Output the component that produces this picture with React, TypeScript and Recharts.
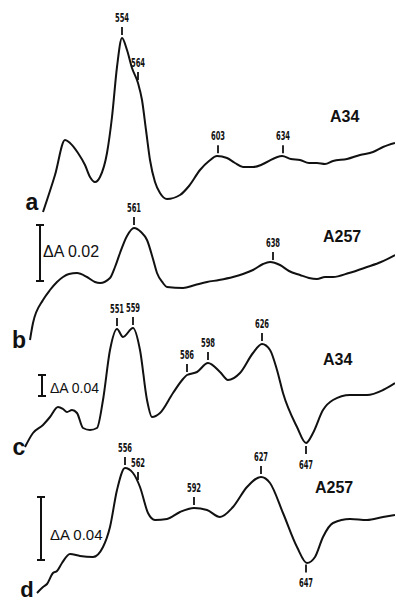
import { LineChart, Line, XAxis, YAxis, ReferenceDot, ReferenceLine } from 'recharts';

// Difference spectra, wavelength (nm) vs trace height (stacked offset units)
const traceA: [number, number][] = [
  [515, 390], [521, 427], [526, 462], [528.5, 459], [532.5, 449], [536, 437], [538.5, 425],
  [541, 420], [543.5, 425], [547, 449], [549.5, 485], [552, 535], [554.5, 564], [557, 552],
  [559.5, 534], [562.5, 519], [564.5, 502], [566.5, 472], [568.5, 442], [571, 420],
  [573.5, 409], [577, 403], [583.5, 407], [588, 416], [593.5, 432], [598, 441], [602, 446],
  [607, 444], [611, 439], [615, 435], [620, 435], [624, 437], [627, 440], [634.5, 446],
  [639, 443], [643.5, 442], [648, 439], [652, 439], [656, 438], [660, 441], [667, 443],
  [673.5, 447], [680, 450], [685, 455], [691, 459],
];
const traceB: [number, number][] = [
  [508.5, 262], [510, 279], [515, 302], [518.5, 312], [522, 320], [525, 325], [528, 328],
  [532, 329], [537, 325], [541, 320], [543.5, 319], [548.5, 324], [551, 335], [553.5, 349],
  [557, 366], [560.5, 374], [564, 370], [567, 362], [570, 343], [572, 329], [575, 319],
  [577, 315], [585, 314], [591, 317], [597, 320], [603, 322], [610, 325], [615, 328],
  [620, 332], [625, 338], [628.5, 340], [633.5, 337], [638, 331], [643.5, 327], [648, 324],
  [652, 323], [656, 325], [660, 325], [668, 329], [677, 335], [684, 340], [691, 347],
];
const traceC: [number, number][] = [
  [506, 155], [510, 169], [515, 177], [518.5, 185], [522.5, 195], [525, 193], [527, 190],
  [529.5, 192], [532, 189], [535, 174], [538.5, 172], [542, 174], [545, 202], [548.5, 252],
  [552, 273], [555, 265], [560, 274], [563.5, 252], [567, 202], [569.5, 185], [573.5, 189],
  [580, 209], [585, 223], [587, 227], [592, 230], [597.5, 239], [603.5, 230], [607.5, 222],
  [613.5, 229], [620, 249], [624.5, 258], [628.5, 252], [632, 232], [635, 209], [642, 175],
  [646.5, 159], [650, 169], [655, 192], [660, 202], [668.5, 207], [677, 207], [685, 212],
  [691, 219],
];
const traceD: [number, number][] = [
  [512, 9], [515, 15], [517, 18], [520, 29], [522, 31], [524.5, 39], [528.5, 48],
  [533.5, 46], [540, 45], [545, 55], [548.5, 75], [552, 112], [556, 134], [560, 129],
  [563.5, 115], [567.5, 89], [571, 82], [577, 83], [583.5, 90], [590.5, 94], [597, 92],
  [603.5, 85], [610, 95], [617, 115], [624, 125], [628.5, 119], [635, 89], [642, 55],
  [647, 39], [651, 45], [655, 65], [660, 79], [668.5, 83], [677, 82], [685, 85], [691, 87],
];

// marked band positions (label text, where the mark sits on the trace, pointing down or up)
const peaksA = [
  { label: '554', nm: 554.5 }, { label: '564', nm: 562.5 },
  { label: '603', nm: 602.5 }, { label: '634', nm: 635 },
];
const peaksB = [{ label: '561', nm: 560.5 }, { label: '638', nm: 630 }];
const peaksC = [
  { label: '551', nm: 552 }, { label: '559', nm: 560 }, { label: '586', nm: 587 },
  { label: '598', nm: 597.5 }, { label: '626', nm: 624.5 }, { label: '647', nm: 646.5, below: true },
];
const peaksD = [
  { label: '556', nm: 556 }, { label: '562', nm: 562.5 }, { label: '592', nm: 590.5 },
  { label: '627', nm: 624 }, { label: '647', nm: 646.5, below: true },
];

const traces = [
  { key: 'a', pts: traceA, peaks: peaksA },
  { key: 'b', pts: traceB, peaks: peaksB },
  { key: 'c', pts: traceC, peaks: peaksC },
  { key: 'd', pts: traceD, peaks: peaksD },
];

const INK = '#111';

function valueAt(pts: [number, number][], nm: number) {
  for (let i = 1; i < pts.length; i++) {
    if (pts[i][0] >= nm) {
      const [x0, y0] = pts[i - 1];
      const [x1, y1] = pts[i];
      return y0 + ((nm - x0) / (x1 - x0)) * (y1 - y0);
    }
  }
  return pts[pts.length - 1][1];
}

function PeakMark(props: any) {
  const { cx, cy, label, below } = props;
  const dir = below ? 1 : -1;
  const t1 = cy + dir * 3;
  const t2 = cy + dir * 11;
  const ty = below ? t2 + 15 : t2 - 5;
  return (
    <g>
      <line x1={cx} x2={cx} y1={t1} y2={t2} stroke={INK} strokeWidth={1.8} />
      <text
        x={cx}
        y={ty}
        textAnchor="middle"
        fontFamily="'DejaVu Sans Condensed', 'DejaVu Sans'"
        fontWeight="bold"
        fontSize={13}
        fill={INK}
        transform={`translate(${cx} 0) scale(0.58 1) translate(${-cx} 0)`}
      >
        {label}
      </text>
    </g>
  );
}

function Note(props: any) {
  const { cx, cy, text, size, bold, anchor } = props;
  return (
    <text
      x={cx}
      y={cy}
      textAnchor={anchor || 'start'}
      fontFamily="'Liberation Sans', Arial, sans-serif"
      fontWeight={bold ? 'bold' : 'normal'}
      fontSize={size}
      fill={INK}
    >
      {text}
    </text>
  );
}

const notes = [
  { nm: 509.5, v: 392, text: 'a', size: 23, bold: true, anchor: 'middle' },
  { nm: 503, v: 254, text: 'b', size: 23, bold: true, anchor: 'middle' },
  { nm: 503, v: 147, text: 'c', size: 23, bold: true, anchor: 'middle' },
  { nm: 507, v: 5, text: 'd', size: 22, bold: true, anchor: 'middle' },
  { nm: 658.5, v: 480, text: 'A34', size: 16, bold: true },
  { nm: 655, v: 360, text: 'A257', size: 16, bold: true },
  { nm: 655, v: 237, text: 'A34', size: 16, bold: true },
  { nm: 651, v: 109, text: 'A257', size: 16, bold: true },
  { nm: 515, v: 345, text: 'ΔA 0.02', size: 16 },
  { nm: 518.5, v: 209, text: 'ΔA 0.04', size: 14 },
  { nm: 518.5, v: 62, text: 'ΔA 0.04', size: 15 },
];

// scale bars: wavelength position, bottom and top of the bar
const scaleBars = [
  { nm: 513.5, lo: 321, hi: 377 },
  { nm: 514.5, lo: 206, hi: 227 },
  { nm: 514, lo: 42, hi: 105 },
];

export default function App() {
  return (
    <div style={{ position: 'absolute', left: 0, top: 0, width: 396, height: 602, background: '#fff' }}>
      <LineChart width={396} height={602} margin={{ top: 0, right: 1, left: 3, bottom: 0 }}>
        <XAxis type="number" dataKey="nm" domain={[495, 691]} hide allowDataOverflow />
        <YAxis type="number" domain={[0, 602]} hide allowDataOverflow />
        {traces.map((t) => (
          <Line
            key={t.key}
            data={t.pts.map(([nm, v]) => ({ nm, v }))}
            dataKey="v"
            type="monotone"
            stroke={INK}
            strokeWidth={2}
            dot={false}
            isAnimationActive={false}
          />
        ))}
        {traces.map((t) =>
          t.peaks.map((p) => (
            <ReferenceDot
              key={`${t.key}-${p.label}`}
              x={p.nm}
              y={valueAt(t.pts, p.nm)}
              r={0}
              ifOverflow="visible"
              shape={(sp: any) => <PeakMark {...sp} label={p.label} below={(p as any).below} />}
            />
          )),
        )}
        {scaleBars.map((b, i) => [
          <ReferenceLine key={`s${i}`} segment={[{ x: b.nm, y: b.lo }, { x: b.nm, y: b.hi }]} stroke={INK} strokeWidth={2} />,
          <ReferenceLine key={`l${i}`} segment={[{ x: b.nm - 2, y: b.lo }, { x: b.nm + 2, y: b.lo }]} stroke={INK} strokeWidth={2} />,
          <ReferenceLine key={`h${i}`} segment={[{ x: b.nm - 2, y: b.hi }, { x: b.nm + 2, y: b.hi }]} stroke={INK} strokeWidth={2} />,
        ])}
        {notes.map((n, i) => (
          <ReferenceDot
            key={`n${i}`}
            x={n.nm}
            y={n.v}
            r={0}
            ifOverflow="visible"
            shape={(sp: any) => <Note {...sp} text={n.text} size={n.size} bold={n.bold} anchor={n.anchor} />}
          />
        ))}
      </LineChart>
    </div>
  );
}
